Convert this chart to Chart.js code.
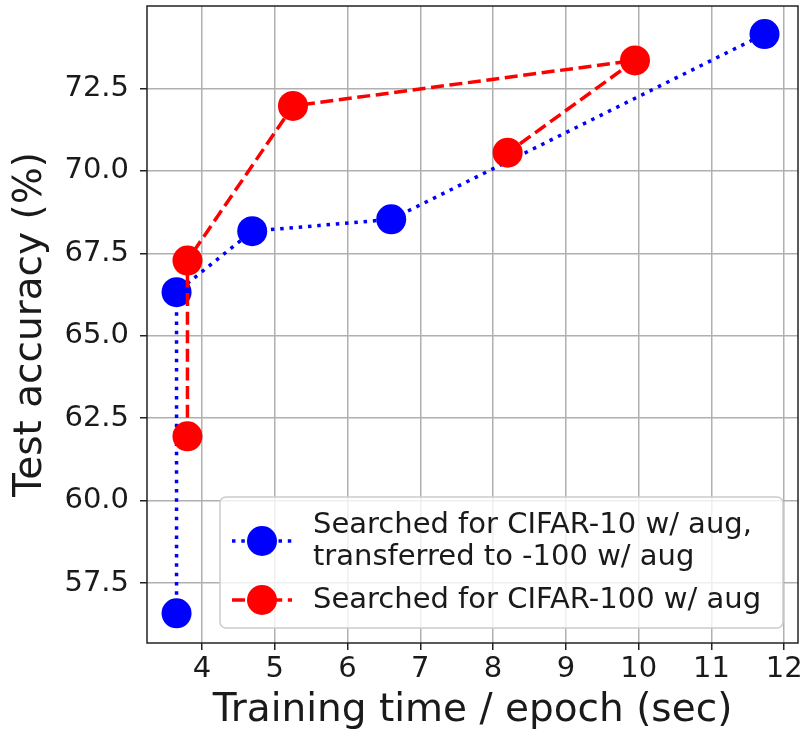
<!DOCTYPE html>
<html>
<head>
<meta charset="utf-8">
<script src="https://cdn.jsdelivr.net/npm/chart.js@4.4.1/dist/chart.umd.min.js"></script>
<style>
  html, body { margin: 0; padding: 0; background: #fff; }
  #wrap { width: 801px; height: 730px; }
</style>
</head>
<body>
<div id="wrap"><canvas id="chart" width="801" height="730"></canvas></div>
<script>
const FONT = "'DejaVu Sans', sans-serif";
const TEXT = "#1a1a1a";

// training time per epoch (sec) vs test accuracy (%)
const transferTime = [3.65, 3.65, 4.69, 6.60, 11.73];
const transferAcc = [56.58, 66.32, 68.17, 68.53, 74.15];
const cifar100Time = [3.80, 3.80, 5.25, 9.95, 8.20];
const cifar100Acc = [61.95, 67.28, 71.97, 73.35, 70.55];

const xTicks = [4, 5, 6, 7, 8, 9, 10, 11, 12];
const yTicks = [57.5, 60.0, 62.5, 65.0, 67.5, 70.0, 72.5];

const transferLabel = ["Searched for CIFAR-10 w/ aug,", "transferred to -100 w/ aug"];
const cifar100Label = ["Searched for CIFAR-100 w/ aug"];

const BLUE = "#0000ff";
const RED = "#ff0000";
const DOTTED = [3.5, 5.8];
const DASHED = [13, 5.6];

const toPoints = (xs, ys) => xs.map((x, i) => ({ x, y: ys[i] }));

// fixed axis thickness, no extra room for overhanging tick labels
const fixSize = (prop, size) => (s) => {
  s[prop] = size;
  s.paddingTop = s.paddingBottom = s.paddingLeft = s.paddingRight = 0;
};

// closed box around the plot area, like axis spines
const framePlugin = {
  id: "frame",
  afterDatasetsDraw(chart) {
    const { ctx, chartArea: a } = chart;
    ctx.save();
    ctx.strokeStyle = "#222";
    ctx.lineWidth = 1.5;
    ctx.strokeRect(a.left, a.top, a.right - a.left, a.bottom - a.top);
    ctx.restore();
  },
};

// framed legend in the lower right corner of the plot
const boxLegendPlugin = {
  id: "boxLegend",
  afterDraw(chart) {
    const { ctx, chartArea: a } = chart;
    const left = a.left + 73, right = a.right - 15;
    const bottom = a.bottom - 15, top = bottom - 131;
    ctx.save();
    ctx.beginPath();
    ctx.roundRect(left, top, right - left, bottom - top, 6);
    ctx.fillStyle = "rgba(255,255,255,0.8)";
    ctx.fill();
    ctx.strokeStyle = "#cccccc";
    ctx.lineWidth = 1.5;
    ctx.stroke();

    const entries = [
      { color: BLUE, dash: DOTTED, lines: transferLabel, y: top + 44 },
      { color: RED, dash: DASHED, lines: cifar100Label, y: top + 103 },
    ];
    const mx = left + 42;
    ctx.font = `29px ${FONT}`;
    ctx.textBaseline = "middle";
    for (const e of entries) {
      ctx.setLineDash(e.dash);
      ctx.strokeStyle = e.color;
      ctx.lineWidth = 3.5;
      ctx.beginPath();
      ctx.moveTo(mx - 30, e.y);
      ctx.lineTo(mx + 30, e.y);
      ctx.stroke();
      ctx.setLineDash([]);
      ctx.fillStyle = e.color;
      ctx.beginPath();
      ctx.arc(mx, e.y, 15, 0, Math.PI * 2);
      ctx.fill();
      ctx.fillStyle = TEXT;
      const lh = 32;
      const y0 = e.y - (lh * (e.lines.length - 1)) / 2;
      e.lines.forEach((t, i) => ctx.fillText(t, left + 93, y0 + i * lh));
    }
    ctx.restore();
  },
};

new Chart(document.getElementById("chart"), {
  type: "scatter",
  data: {
    datasets: [
      {
        label: transferLabel.join(" "),
        data: toPoints(transferTime, transferAcc),
        showLine: true,
        borderColor: BLUE,
        backgroundColor: BLUE,
        borderWidth: 3.5,
        borderDash: DOTTED,
        pointRadius: 15,
        pointBorderWidth: 0,
        order: 1,
      },
      {
        label: cifar100Label.join(" "),
        data: toPoints(cifar100Time, cifar100Acc),
        showLine: true,
        borderColor: RED,
        backgroundColor: RED,
        borderWidth: 3.5,
        borderDash: DASHED,
        pointRadius: 15,
        pointBorderWidth: 0,
        order: 0,
      },
    ],
  },
  options: {
    responsive: false,
    devicePixelRatio: 1,
    animation: false,
    layout: { autoPadding: false, padding: { top: 6, right: 3, left: 0, bottom: 0 } },
    plugins: {
      legend: { display: false },
      tooltip: { enabled: false },
    },
    scales: {
      x: {
        type: "linear",
        min: 3.244,
        max: 12.19,
        afterBuildTicks: (s) => { s.ticks = xTicks.map((v) => ({ value: v })); },
        afterFit: fixSize("height", 87),
        border: { display: false },
        grid: { color: "#b0b0b0", lineWidth: 1.5, tickLength: 7, tickColor: "#222", tickWidth: 1.5 },
        ticks: { font: { family: FONT, size: 29 }, color: TEXT, padding: 2, maxRotation: 0, autoSkip: false },
        title: {
          display: true,
          text: "Training time / epoch (sec)",
          font: { family: FONT, size: 39, lineHeight: 1 },
          color: TEXT,
          padding: { top: 0, bottom: 0 },
        },
      },
      y: {
        type: "linear",
        min: 55.68,
        max: 75.0,
        afterBuildTicks: (s) => { s.ticks = yTicks.map((v) => ({ value: v })); },
        afterFit: fixSize("width", 147),
        border: { display: false },
        grid: { color: "#b0b0b0", lineWidth: 1.5, tickLength: 7, tickColor: "#222", tickWidth: 1.5 },
        ticks: {
          font: { family: FONT, size: 29 },
          color: TEXT,
          padding: 11,
          autoSkip: false,
          callback: (v) => Number(v).toFixed(1),
        },
        title: {
          display: true,
          text: "Test accuracy (%)",
          font: { family: FONT, size: 39, lineHeight: 1 },
          color: TEXT,
          padding: { top: 11, bottom: 0 },
        },
      },
    },
  },
  plugins: [framePlugin, boxLegendPlugin],
});
</script>
</body>
</html>
